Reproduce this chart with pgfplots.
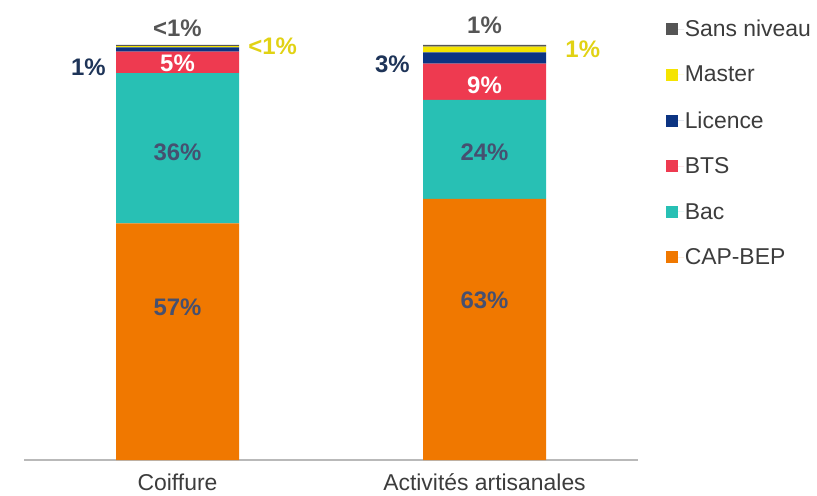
\documentclass[border=0pt]{standalone}
\usepackage{pgfplots}
\pgfplotsset{compat=1.18}
\usepackage{fontspec}
\setmainfont{Liberation Sans}
\definecolor{capc}{RGB}{240,120,0}
\definecolor{bacc}{RGB}{40,192,180}
\definecolor{btsc}{RGB}{238,58,80}
\definecolor{licc}{RGB}{12,52,130}
\definecolor{masc}{RGB}{245,228,0}
\definecolor{sansc}{RGB}{85,85,85}
\definecolor{inlab}{RGB}{70,80,112}
\definecolor{navy}{RGB}{30,52,88}
\definecolor{ylab}{RGB}{225,210,20}
\definecolor{txt}{RGB}{60,60,60}
\begin{document}
\begin{tikzpicture}
\useasboundingbox (0,0) rectangle (817bp,496bp);
\begin{axis}[
  at={(24bp,36bp)}, anchor=south west,
  scale only axis, width=614bp, height=415bp,
  ybar stacked, bar width=123bp,
  xmin=-0.5, xmax=1.5, ymin=0, ymax=100,
  clip=false,
  hide y axis,
  axis x line*=bottom,
  x axis line style={draw=gray!55, line width=1.5bp, -},
  xtick={0,1}, xticklabels={Coiffure,Activités artisanales},
  major tick length=0pt,
  xticklabel style={font=\fontsize{23}{26}\selectfont, text=txt, yshift=-10.5bp},
  legend style={at={(rel axis cs:1.04,1.068)}, anchor=north west, draw=none, fill=none,
    font=\fontsize{23}{26}\selectfont, text=txt, row sep=26.1bp,
    nodes={inner sep=1bp}},
  legend cell align=left,
  reverse legend,
  legend image code/.code={\fill[#1] (0bp,-6bp) rectangle (12bp,6bp); \path (0bp,0bp) -- (18bp,0bp);},
  every axis plot/.append style={draw=none},
]
\addplot[fill=capc] coordinates {(0,57) (1,62.9)};
\addplot[fill=bacc] coordinates {(0,36.2) (1,23.9)};
\addplot[fill=btsc] coordinates {(0,5.2) (1,8.7)};
\addplot[fill=licc] coordinates {(0,1.0) (1,2.7)};
\addplot[fill=masc] coordinates {(0,0.3) (1,1.4)};
\addplot[fill=sansc] coordinates {(0,0.3) (1,0.4)};
\legend{CAP-BEP,Bac,BTS,Licence,Master,Sans niveau}
\coordinate (a1) at (axis cs:0,36.9);
\coordinate (a2) at (axis cs:0,74.2);
\coordinate (a3) at (axis cs:0,95.7);
\coordinate (b1) at (axis cs:1,38.6);
\coordinate (b2) at (axis cs:1,74.2);
\coordinate (b3) at (axis cs:1,90.4);
\coordinate (at) at (axis cs:0,104.1);
\coordinate (bt) at (axis cs:1,104.8);
\coordinate (al) at (axis cs:-0.29,94.7);
\coordinate (bl) at (axis cs:0.70,95.4);
\coordinate (ar) at (axis cs:0.31,99.8);
\coordinate (br) at (axis cs:1.32,99.0);
\end{axis}
\tikzset{lab/.style={font=\bfseries\fontsize{24}{26}\selectfont, inner sep=0pt}}
\node[lab, text=inlab] at (a1) {57\%};
\node[lab, text=inlab] at (a2) {36\%};
\node[lab, text=white] at (a3) {5\%};
\node[lab, text=inlab] at (b1) {63\%};
\node[lab, text=inlab] at (b2) {24\%};
\node[lab, text=white] at (b3) {9\%};
\node[lab, text=sansc] at (at) {<1\%};
\node[lab, text=sansc] at (bt) {1\%};
\node[lab, text=navy] at (al) {1\%};
\node[lab, text=navy] at (bl) {3\%};
\node[lab, text=ylab] at (ar) {<1\%};
\node[lab, text=ylab] at (br) {1\%};
\end{tikzpicture}
\end{document}
